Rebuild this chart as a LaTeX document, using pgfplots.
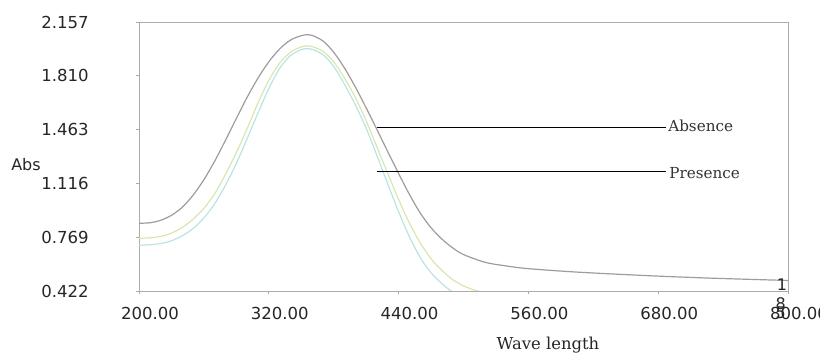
\documentclass[border=0pt]{standalone}
\usepackage{fontspec}
\setmainfont{DejaVu Sans}
\newfontfamily\seriffont{DejaVu Serif}
\usepackage{pgfplots}
\pgfplotsset{compat=1.18}
\usepackage{pgfplotstable}
\definecolor{cgray}{HTML}{A39A9A}
\definecolor{cgreen}{HTML}{D9E6B2}
\definecolor{ccyan}{HTML}{BCE3E3}
\definecolor{caxis}{HTML}{ABABAB}

\pgfplotstableread{
x y
200 0.859
210 0.862
220 0.878
230 0.910
240 0.962
250 1.040
260 1.140
270 1.260
280 1.395
290 1.535
300 1.672
310 1.795
320 1.900
330 1.983
340 2.040
350 2.069
356 2.075
360 2.071
370 2.035
380 1.962
390 1.860
400 1.738
410 1.603
420 1.463
430 1.320
440 1.180
450 1.045
460 0.925
470 0.830
480 0.757
490 0.700
500 0.657
520 0.607
540 0.583
560 0.566
600 0.546
640 0.531
680 0.518
720 0.507
760 0.498
800 0.490
}\grayT

\pgfplotstableread{
x y
200 0.762
210 0.765
220 0.774
230 0.795
240 0.832
250 0.885
260 0.955
270 1.050
280 1.175
290 1.315
300 1.470
310 1.635
320 1.780
330 1.892
340 1.962
350 1.997
356 2.003
360 1.999
370 1.968
380 1.900
390 1.795
400 1.670
410 1.520
420 1.350
430 1.180
440 1.012
450 0.860
460 0.732
470 0.630
480 0.555
490 0.495
500 0.455
510 0.428
520 0.410
540 0.380
}\greenT

\pgfplotstableread{
x y
200 0.717
210 0.720
220 0.728
230 0.746
240 0.778
250 0.825
260 0.893
270 0.985
280 1.105
290 1.245
300 1.405
310 1.570
320 1.728
330 1.858
340 1.940
350 1.979
356 1.985
360 1.981
370 1.947
380 1.870
390 1.755
400 1.622
410 1.472
420 1.295
430 1.112
440 0.933
450 0.772
460 0.638
470 0.540
480 0.470
490 0.415
500 0.380
}\cyanT

\begin{document}
\begin{tikzpicture}
\path[use as bounding box] (0,0) rectangle (615pt,264.75pt);
\begin{axis}[
  at={(104.25pt,46.5pt)}, anchor=south west,
  scale only axis, width=486.75pt, height=201.75pt,
  xmin=200, xmax=800, ymin=0.422, ymax=2.157,
  axis line style={caxis, line width=0.6pt},
  tick style={caxis, line width=0.6pt},
  tick align=outside, major tick length=2.5pt,
  xtick pos=bottom, ytick pos=left,
  xtick={200,320,440,560,680,800},
  xticklabels={200.00,320.00,440.00,560.00,680.00,800.00},
  ytick={0.422,0.769,1.116,1.463,1.810,2.157},
  yticklabels={0.422,0.769,1.116,1.463,1.810,2.157},
  /pgf/number format/assume math mode=true,
  ticklabel style={font=\fontsize{12.4}{14}\selectfont, text=black!85},
  xticklabel style={anchor=center, inner sep=0pt, xshift=8.25pt, yshift=-14pt},
  yticklabel style={anchor=east, inner sep=0pt, xshift=-35pt},
  clip=true,
]
\addplot[cgray, line width=0.9pt, smooth] table[x=x,y=y] {\grayT};
\addplot[cgreen, line width=0.9pt, smooth] table[x=x,y=y] {\greenT};
\addplot[ccyan, line width=0.9pt, smooth] table[x=x,y=y] {\cyanT};
\draw[black, line width=0.7pt] (axis cs:419.7,1.479) -- (axis cs:687.4,1.479);
\draw[black, line width=0.7pt] (axis cs:419.7,1.195) -- (axis cs:687.4,1.195);
\end{axis}
\node[anchor=west, inner sep=0pt, font=\seriffont\fontsize{11.4}{13}\selectfont, text=black!80] at (501pt,170.25pt) {Absence};
\node[anchor=west, inner sep=0pt, font=\seriffont\fontsize{11.4}{13}\selectfont, text=black!80] at (501.75pt,135pt) {Presence};
\node[inner sep=0pt, font=\seriffont\fontsize{12.3}{14}\selectfont, text=black!85] at (411pt,5.6pt) {Wave length};
\node[inner sep=0pt, font=\fontsize{12}{14}\selectfont, text=black!85] at (19.5pt,141pt) {Abs};
\node[inner sep=0pt, font=\fontsize{12}{14}\selectfont, text=black!85] at (586.5pt,51pt) {1};
\node[inner sep=0pt, font=\fontsize{12}{14}\selectfont, text=black!85] at (585.5pt,36.75pt) {8};
\node[inner sep=0pt, font=\fontsize{12}{14}\selectfont, text=black!85] at (585.5pt,30pt) {5};
\end{tikzpicture}
\end{document}
